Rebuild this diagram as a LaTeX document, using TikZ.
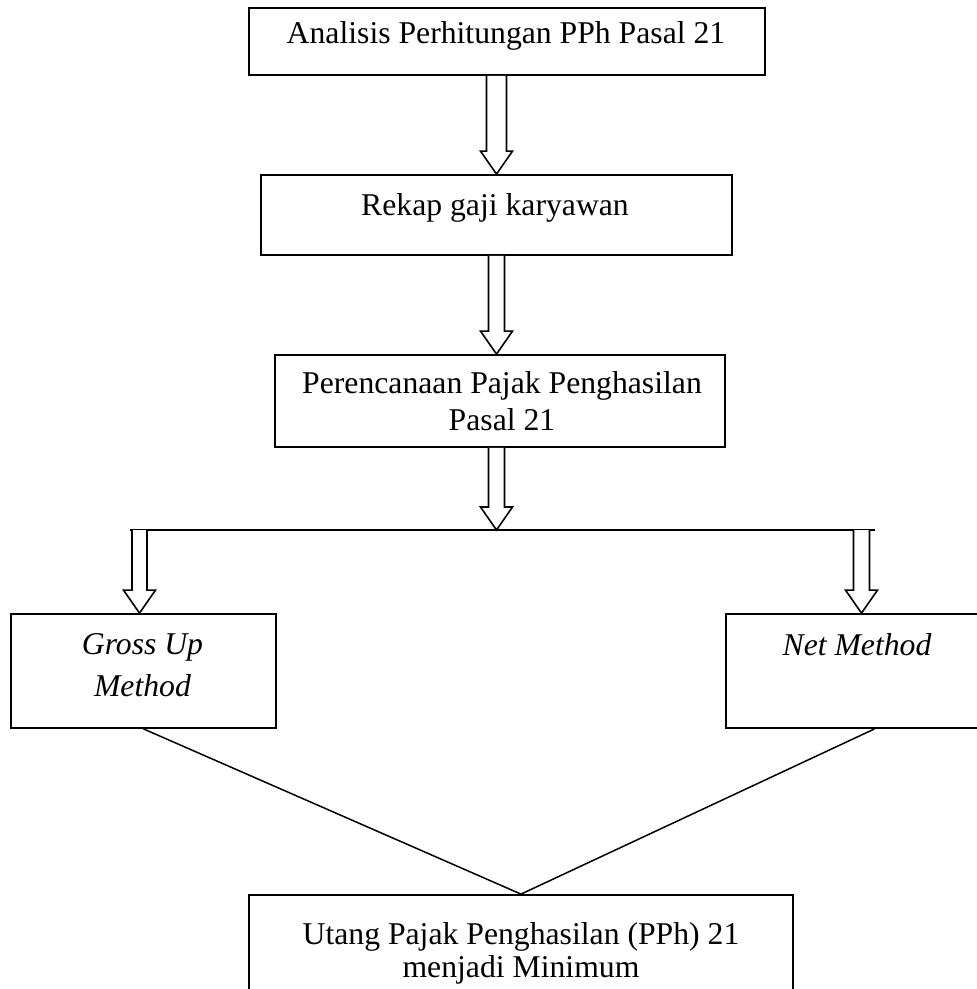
\documentclass[tikz,border=0pt]{standalone}
\usepackage{fontspec}
\setmainfont{Liberation Serif}
\usetikzlibrary{calc}
\tikzset{
  box/.style={draw, line width=1.8pt, rectangle, inner sep=0pt},
  txt/.style={anchor=base, inner sep=0pt, font=\fontsize{31.7}{37}\selectfont},
  itxt/.style={anchor=base, inner sep=0pt, font=\fontsize{31.7}{37}\selectfont\itshape},
  blk/.style={draw, line width=1.6pt, fill=white, line join=miter},
  conn/.style={line width=1.5pt},
}
\newcommand\blockarrow[3]{%
  \draw[blk] ($(#2)+(-#1,0)$) -- ($(#3)+(-#1,-23)$) -- ($(#3)+(-16,-23)$) -- (#3)
    -- ($(#3)+(16,-23)$) -- ($(#3)+(#1,-23)$) -- ($(#2)+(#1,0)$);%
}
\begin{document}
\begin{tikzpicture}[x=1pt,y=-1pt]
\useasboundingbox (0,0) rectangle (977,989);
% boxes
\node[box, minimum width=516pt, minimum height=67pt] (b1) at (507,41.5) {};
\node[box, minimum width=471pt, minimum height=80pt] (b2) at (496.5,215) {};
\node[box, minimum width=450pt, minimum height=92pt] (b3) at (500,401) {};
\node[box, minimum width=265pt, minimum height=114pt] (gross) at (143.5,671) {};
\node[box, minimum width=264pt, minimum height=114pt] (net) at (858,671) {};
\node[box, minimum width=544pt, minimum height=115pt] (bot) at (521,952.5) {};
% texts
\node[txt] (t1) at (506,43) {Analisis Perhitungan PPh Pasal 21};
\node[txt] (t2) at (495,215) {Rekap gaji karyawan};
\node[txt] (t3a) at (502,393) {Perencanaan Pajak Penghasilan};
\node[txt] (t3b) at (502,430) {Pasal 21};
\node[itxt] (t4a) at (142.5,654) {Gross Up};
\node[itxt] (t4b) at (142.5,696) {Method};
\node[itxt] (t5) at (857,655) {Net Method};
\node[txt] (t6a) at (521,944) {Utang Pajak Penghasilan (PPh) 21};
\node[txt] (t6b) at (521,977) {menjadi Minimum};
% branching line
\coordinate (hl) at (130,530);
\coordinate (hr) at (875,530);
\draw[line width=1.8pt] (hl) -- (hr);
\coordinate (hm) at (b2.south |- hl);
\coordinate (gt) at ($(gross.north)+(-4,0)$);
\coordinate (gs) at (gt |- hl);
\coordinate (nt) at ($(net.north)+(3.5,0)$);
\coordinate (ns) at (nt |- hl);
% block arrows
\blockarrow{10}{b1.south -| b2.north}{b2.north}
\blockarrow{8}{b2.south}{b3.north -| b2.south}
\blockarrow{8}{b3.south -| b2.south}{hm}
\blockarrow{7.5}{gs}{gt}
\blockarrow{8}{ns}{nt}
% connectors to the result
\draw[conn] (gross.south) -- (bot.north);
\draw[conn] ($(net.south)+(16.5,0)$) -- (bot.north);
\end{tikzpicture}
\end{document}
